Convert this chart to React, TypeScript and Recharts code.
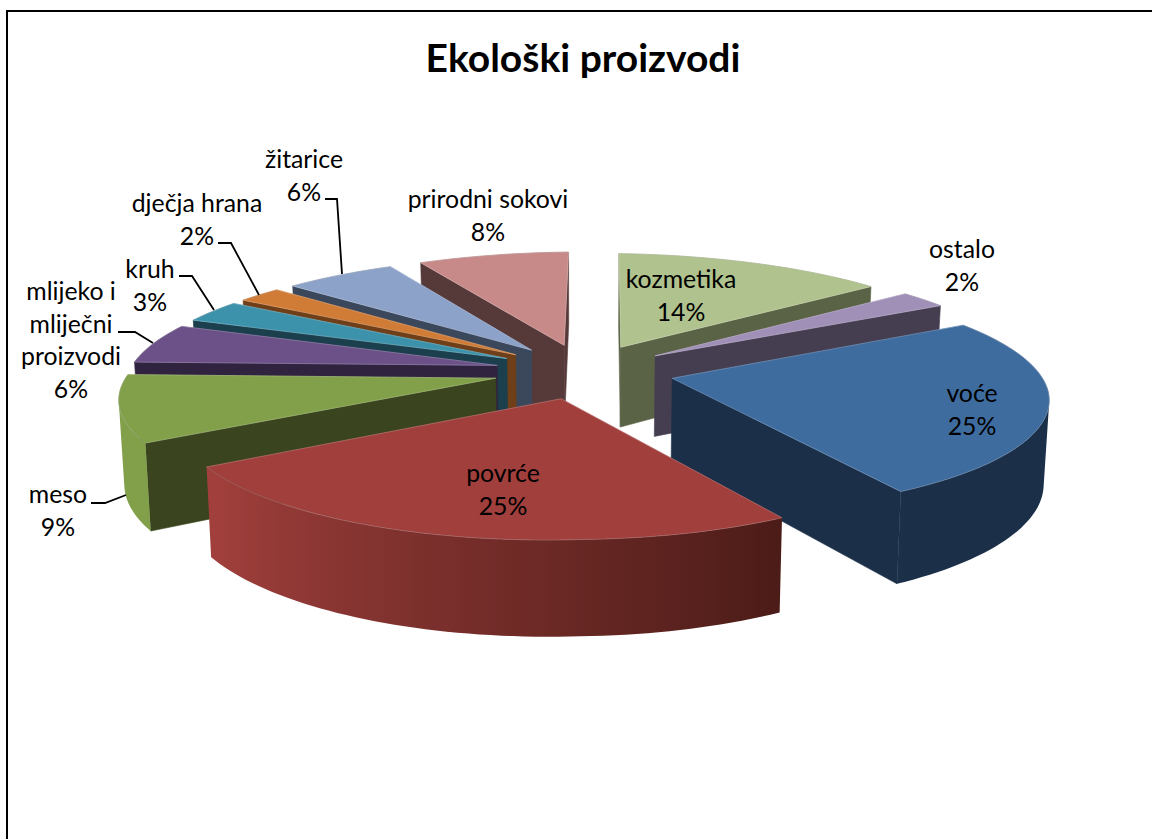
import React from 'react';
import { PieChart, Pie } from 'recharts';

const FONT = 'Lato, Carlito, sans-serif';

// values clockwise from 12 o'clock, labels show them rounded
const categories = ['kozmetika', 'ostalo', 'voće', 'povrće', 'meso', 'mlijeko i mliječni proizvodi', 'kruh', 'dječja hrana', 'žitarice', 'prirodni sokovi'];
const shares = [13.56, 2.43, 25.13, 25.49, 9.36, 5.59, 3.13, 2.23, 5.58, 7.5];
const topColors = ['#B0C28E', '#A08FB7', '#3F6C9F', '#A03F3C', '#82A04A', '#6C5189', '#3D92AB', '#D07C37', '#8CA2C8', '#C88A89'];
const wallColors = ['#5A6346', '#453E50', '#1B2F48', '#4A1B17', '#3A441E', '#30233F', '#1B3F4C', '#6E3F18', '#3B485C', '#563A3A'];
const chartData = categories.map((name, i) => ({ name, value: shares[i] }));

// back slices first
const paintOrder = [9, 0, 1, 8, 7, 6, 5, 2, 4, 3];

// label text lines and where they sit (center x, first baseline), plus leader lines
const labelLines: string[][] = [['kozmetika'], ['ostalo'], ['voće'], ['povrće'], ['meso'], ['mlijeko i', 'mliječni', 'proizvodi'], ['kruh'], ['dječja hrana'], ['žitarice'], ['prirodni sokovi']];
const labelAt = [[681, 288], [962, 258], [972, 402], [503, 482], [58, 503], [71, 300], [150, 278], [197, 212], [304, 168], [488, 208]];
const leaders: (string | null)[] = [
  null, null, null, null,
  '91,503 105,503 126,495',
  '118,332 135,332 153,343',
  '179,276 192,276 214,310',
  '218,243 231,243 259,295',
  '325,199 337,199 342,274',
  null,
];

// 3D look of the pie
const RADIUS = 370;
const EXPLODE = 90;
const SQUASH = 0.3053;
const CAMERA = 3000;
const CAMERA_Y = 2650;
const DEPTH = 82;
const SAG = 5 / 450; // the sides of the pie sit a little lower than the middle
const CX = 584;
const CY = 371;
const FIRST_ANGLE = 0.4;

const rad = (d: number) => (d * Math.PI) / 180;

const mix = (a: string, b: string, t: number) => {
  const ch = (c: string, i: number) => parseInt(c.slice(1 + i * 2, 3 + i * 2), 16);
  const out = [0, 1, 2].map((i) => Math.round(ch(a, i) + (ch(b, i) - ch(a, i)) * t));
  return `rgb(${out.join(',')})`;
};

const project = (cx: number, cy: number, px: number, pz: number, depth: number) => {
  const f = CAMERA / (CAMERA + pz);
  const fy = CAMERA_Y / (CAMERA_Y + pz);
  const x = px * f * (depth > 0 ? 0.988 : 1);
  return [cx + x, cy - pz * SQUASH * fy + depth * f + Math.abs(px) * SAG];
};

const Slice3D = (props: any) => {
  const { cx, cy, outerRadius, startAngle, endAngle, index } = props;
  const a1 = 90 - startAngle;
  const a2 = 90 - endAngle;
  const mid = rad((a1 + a2) / 2);
  const ox = EXPLODE * Math.sin(mid);
  const oz = EXPLODE * Math.cos(mid);
  const rim = (a: number) => [ox + outerRadius * Math.sin(rad(a)), oz + outerRadius * Math.cos(rad(a))];
  const pt = (p: number[], depth: number) => project(cx, cy, p[0], p[1], depth).join(',');
  const steps = Math.max(4, Math.round((a2 - a1) / 1.5));
  const angles = Array.from({ length: steps + 1 }, (_, i) => a1 + ((a2 - a1) * i) / steps);
  const apex = [ox, oz];

  const faces: React.ReactNode[] = [];
  const wall = (a: number, sign: number) => {
    const r = rad(a);
    const nx = sign * Math.cos(r);
    const nz = -sign * Math.sin(r);
    if ((0 - ox) * nx + (-CAMERA - oz) * nz <= 0) return;
    const e = rim(a);
    faces.push(
      <polygon key={`w${a}`} points={[pt(apex, 0), pt(e, 0), pt(e, DEPTH), pt(apex, DEPTH)].join(' ')} fill={wallColors[index]} stroke={wallColors[index]} strokeWidth={0.6} />
    );
  };
  wall(a1, -1);
  wall(a2, 1);

  // outer wall: only the part turned to the camera, shaded by angle
  const visible = angles.filter((a) => {
    const p = rim(a);
    return (0 - p[0]) * Math.sin(rad(a)) + (-CAMERA - p[1]) * Math.cos(rad(a)) > 0;
  });
  let gradient = null;
  if (visible.length > 1) {
    const xs = visible.map((a) => project(cx, cy, rim(a)[0], rim(a)[1], 0)[0]);
    const x1 = Math.min(...xs);
    const x2 = Math.max(...xs);
    const id = `outer-${index}`;
    const stops = visible
      .map((a, i) => ({
        offset: (xs[i] - x1) / (x2 - x1),
        color: mix(wallColors[index], topColors[index], Math.min(1, Math.max(0, (a - 147) / 88))),
      }))
      .sort((p, q) => p.offset - q.offset);
    gradient = (
      <linearGradient id={id} gradientUnits="userSpaceOnUse" x1={x1} x2={x2} y1={0} y2={0}>
        {stops.map((s, i) => <stop key={i} offset={s.offset} stopColor={s.color} />)}
      </linearGradient>
    );
    const outline = [...visible.map((a) => pt(rim(a), 0)), ...[...visible].reverse().map((a) => pt(rim(a), DEPTH))].join(' ');
    faces.push(<polygon key="outer" points={outline} fill={`url(#${id})`} />);
  }

  const top = [pt(apex, 0), ...angles.map((a) => pt(rim(a), 0))].join(' ');
  return (
    <g>
      {gradient && <defs>{gradient}</defs>}
      {faces}
      <polygon points={top} fill={topColors[index]} stroke={mix(topColors[index], '#FFFFFF', 0.25)} strokeWidth={0.8} strokeLinejoin="round" />
      <polyline points={angles.map((a) => pt(rim(a), 0)).join(' ')} fill="none" stroke="#000" strokeOpacity={0.12} strokeWidth={0.8} />
    </g>
  );
};

const SliceLabel = (props: any) => {
  const { index, value } = props;
  const [x, y] = labelAt[index];
  const lines = [...labelLines[index], `${Math.round(value)}%`];
  return (
    <g>
      {leaders[index] && <polyline points={leaders[index] as string} fill="none" stroke="#000" strokeWidth={1.8} />}
      <text x={x} y={y} textAnchor="middle" fontFamily={FONT} fontSize={24.8} fill="#000">
        {lines.map((line, i) => (
          <tspan key={i} x={x} dy={i === 0 ? 0 : 32.5}>{line}</tspan>
        ))}
      </text>
    </g>
  );
};

export default function App() {
  return (
    <div style={{ position: 'fixed', left: 0, top: 0, width: 1152, height: 839, overflow: 'hidden', background: '#fff' }}>
      <PieChart width={1152} height={839} margin={{ top: 0, right: 0, bottom: 0, left: 0 }}>
        <rect x={7} y={11} width={1400} height={1000} fill="none" stroke="#000" strokeWidth={2} />
        <text x={583} y={72} textAnchor="middle" fontFamily={FONT} fontSize={39} fontWeight={700} fill="#000">Ekološki proizvodi</text>
        {paintOrder.map((k) => (
          <Pie
            key={k}
            data={chartData}
            dataKey="value"
            nameKey="name"
            cx={CX}
            cy={CY}
            outerRadius={RADIUS}
            startAngle={90 - FIRST_ANGLE}
            endAngle={-270 - FIRST_ANGLE}
            stroke="none"
            isAnimationActive={false}
            shape={(p: any) => (p.index === k ? <Slice3D {...p} /> : <g />)}
          />
        ))}
        <Pie
          data={chartData}
          dataKey="value"
          nameKey="name"
          cx={CX}
          cy={CY}
          outerRadius={RADIUS}
          startAngle={90 - FIRST_ANGLE}
          endAngle={-270 - FIRST_ANGLE}
          isAnimationActive={false}
          shape={() => <g />}
          labelLine={false}
          label={(p: any) => <SliceLabel {...p} />}
        />
      </PieChart>
    </div>
  );
}
